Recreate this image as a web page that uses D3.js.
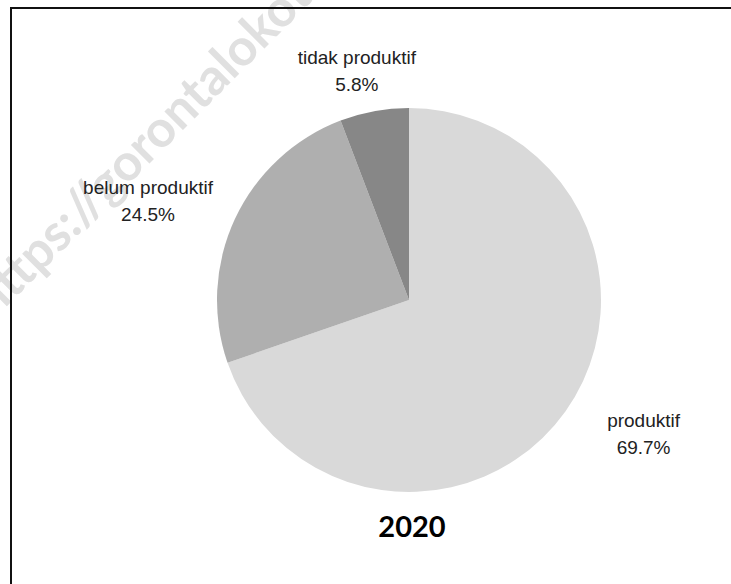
<!DOCTYPE html>
<html>
<head>
<meta charset="utf-8">
<script src="https://cdn.jsdelivr.net/npm/d3@7"></script>
<style>
  html, body { margin: 0; padding: 0; background: #fff; }
  svg { display: block; }
</style>
</head>
<body>
<div id="chart"></div>
<script>
// chart data
const categories = ["produktif", "belum produktif", "tidak produktif"];
const shares = [69.7, 24.5, 5.8];
const sliceColors = ["#d9d9d9", "#afafaf", "#878787"];
const title = "2020";
const watermark = "https://gorontalokota.bps.go.id";

const width = 731;
const height = 584;
const cx = 409;
const cy = 300;
const radius = 192;

var svg = d3.select("#chart").append("svg")
    .attr("width", width)
    .attr("height", height)
    .attr("viewBox", "0 0 " + width + " " + height);

// faint diagonal watermark behind everything
svg.append("text")
    .attr("transform", "translate(-7,320) rotate(-45)")
    .attr("font-family", "Lato, Carlito, sans-serif")
    .attr("font-weight", "bold")
    .attr("font-size", 51)
    .attr("fill", "#e0e0e0")
    .text(watermark);

// frame (only top and left edges fall inside the picture)
svg.append("rect")
    .attr("x", 11)
    .attr("y", 8)
    .attr("width", width + 20)
    .attr("height", height + 20)
    .attr("fill", "none")
    .attr("stroke", "#111")
    .attr("stroke-width", 2);

var pie = d3.pie().sort(null).value(function(d) { return d; });
var arcs = pie(shares);
var arc = d3.arc().innerRadius(0).outerRadius(radius);

var g = svg.append("g").attr("transform", "translate(" + cx + "," + cy + ")");
g.selectAll("path")
    .data(arcs)
    .join("path")
    .attr("d", arc)
    .attr("fill", function(d, i) { return sliceColors[i]; });

// labels sit on an ellipse around the pie, along each slice's mid angle
var labelRx = radius * 1.5;
var labelRy = radius * 1.21;
var labels = g.selectAll("text.lbl")
    .data(arcs)
    .join("text")
    .attr("class", "lbl")
    .attr("text-anchor", "middle")
    .attr("font-family", "Liberation Sans, Arial, sans-serif")
    .attr("font-size", 19)
    .attr("fill", "#222");
labels.each(function(d, i) {
    var a = (d.startAngle + d.endAngle) / 2;
    var x = Math.sin(a) * labelRx;
    var y = -Math.cos(a) * labelRy;
    var t = d3.select(this);
    t.append("tspan").attr("x", x).attr("y", y - 8).text(categories[i]);
    t.append("tspan").attr("x", x).attr("y", y + 19).text(d3.format(".1f")(shares[i]) + "%");
});

svg.append("text")
    .attr("x", cx + 3)
    .attr("y", 537)
    .attr("text-anchor", "middle")
    .attr("font-family", "Lato, Carlito, sans-serif")
    .attr("font-weight", "bold")
    .attr("font-size", 29)
    .attr("fill", "#000")
    .text(title);
</script>
</body>
</html>
